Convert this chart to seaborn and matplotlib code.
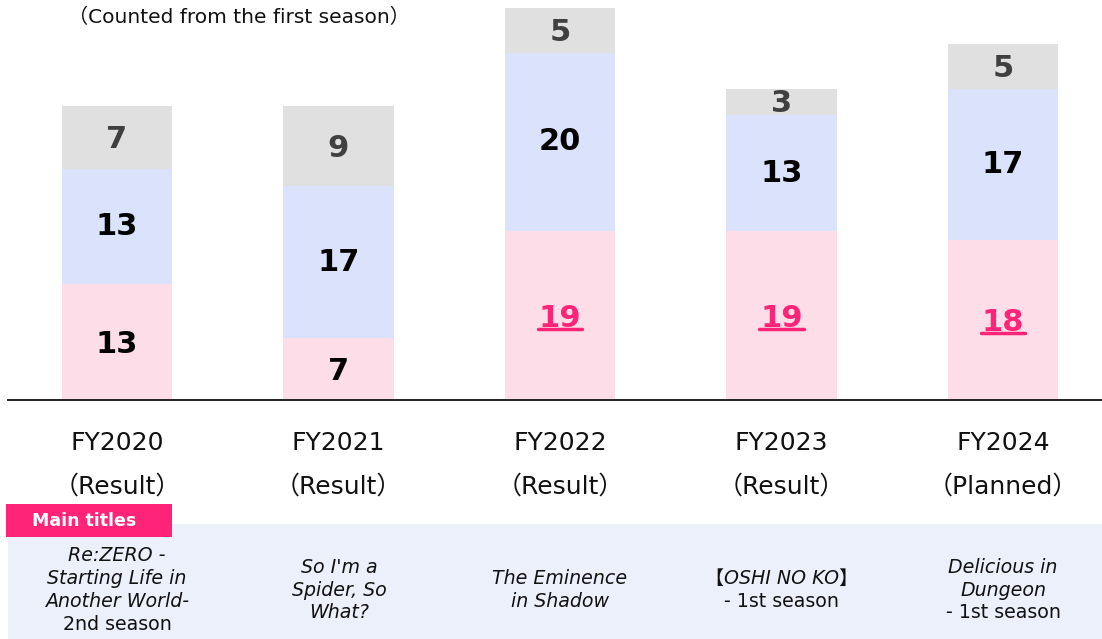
import matplotlib
matplotlib.use("Agg")
import matplotlib.pyplot as plt
import seaborn as sns
import numpy as np
from matplotlib.patches import Rectangle
from matplotlib.lines import Line2D

# values
years = ["FY2020", "FY2021", "FY2022", "FY2023", "FY2024"]
status = ["（Result）", "（Result）", "（Result）", "（Result）", "（Planned）"]
pink_vals = [13, 7, 19, 19, 18]
blue_vals = [13, 17, 20, 13, 17]
gray_vals = [7, 9, 5, 3, 5]
pink_highlight = [False, False, True, True, True]
titles = [
    [("Re:ZERO -", "italic"), ("Starting Life in", "italic"),
     ("Another World-", "italic"), ("2nd season", "normal")],
    [("So I'm a", "italic"), ("Spider, So", "italic"), ("What?", "italic")],
    [("The Eminence", "italic"), ("in Shadow", "italic")],
    [("【OSHI NO KO】", "italic"), ("- 1st season", "normal")],
    [("Delicious in", "italic"), ("Dungeon", "italic"), ("- 1st season", "normal")],
]

PINK = "#FDDDE8"
BLUE = "#DAE3FB"
GRAY = "#E0E0E0"
HOT = "#FF2478"
PANEL = "#ECF0FB"
FAM = ["DejaVu Sans", "Noto Sans CJK JP"]

sns.set_style("white")
plt.rcParams["font.family"] = FAM

W, H = 1102, 639
fig = plt.figure(figsize=(W / 100, H / 100), dpi=100)
ax = fig.add_axes([8 / W, (H - 400) / H, (W - 8) / W, 400 / H])

pink = np.array(pink_vals)
blue = np.array(blue_vals)
gray = np.array(gray_vals)
x = np.arange(len(years))

# stacked bars: draw cumulative totals back to front
for vals, col in [(pink + blue + gray, GRAY), (pink + blue, BLUE), (pink, PINK)]:
    sns.barplot(x=years, y=vals, color=col, width=0.5, saturation=1,
                linewidth=0, edgecolor="none", ax=ax)

ax.set_xlim(-0.492, 4.447)
ax.set_ylim(0, 44.95)
ax.set_xticks([])
ax.set_yticks([])
ax.set_xlabel("")
ax.set_ylabel("")
for s in ["top", "left", "right"]:
    ax.spines[s].set_visible(False)
ax.spines["bottom"].set_color("#222222")
ax.spines["bottom"].set_linewidth(1.4)

underlined = []
for i in x:
    # segment labels
    t = ax.text(i, pink[i] / 2 - 0.3, str(pink[i]), ha="center", va="center",
                fontsize=22, fontweight="bold",
                color=HOT if pink_highlight[i] else "black")
    if pink_highlight[i]:
        underlined.append(t)
    ax.text(i, pink[i] + blue[i] / 2, str(blue[i]), ha="center", va="center",
            fontsize=22, fontweight="bold", color="black")
    ax.text(i, pink[i] + blue[i] + gray[i] / 2 - 0.2, str(gray[i]), ha="center", va="center",
            fontsize=22, fontweight="bold", color="#404040")

    # category labels under the axis
    tr = ax.get_xaxis_transform()
    ax.text(i, (400 - 443) / 400, years[i], transform=tr, ha="center", va="center",
            fontsize=18, color="#111111")
    ax.text(i, (400 - 487) / 400, status[i], transform=tr, ha="center", va="center",
            fontsize=18, color="#111111")

# subtitle
fig.text(68 / W, 1 - 17 / H, "（Counted from the first season）", ha="left", va="center",
         fontsize=14.5, color="#111111")

# titles panel
fig.patches.append(Rectangle((8 / W, 0), (W - 8) / W, (H - 524) / H,
                             transform=fig.transFigure, facecolor=PANEL, edgecolor="none"))
fig.patches.append(Rectangle((6 / W, 1 - 537 / H), 166 / W, 33 / H,
                             transform=fig.transFigure, facecolor=HOT, edgecolor="none",
                             zorder=3))
fig.text(84 / W, 1 - 521 / H, "Main titles", ha="center", va="center", fontsize=12.5,
         fontweight="bold", color="white", zorder=4)

centers_px = [117, 339, 560, 782, 1003]
for cx, lines in zip(centers_px, titles):
    n = len(lines)
    for k, (line, style) in enumerate(lines):
        py = 590 + (k - (n - 1) / 2) * 22.7
        fig.text(cx / W, 1 - py / H, line, ha="center", va="center", fontsize=13.7,
                 style=style, color="#111111")

# underline the highlighted numbers
fig.canvas.draw()
for t in underlined:
    bb = t.get_window_extent()
    yline = (bb.y0 + 4) / H
    fig.lines.append(Line2D([(bb.x0 - 1) / W, (bb.x1 + 1) / W], [yline, yline],
                            transform=fig.transFigure, color=HOT, lw=2.5))

fig.savefig("out.png", dpi=100)
